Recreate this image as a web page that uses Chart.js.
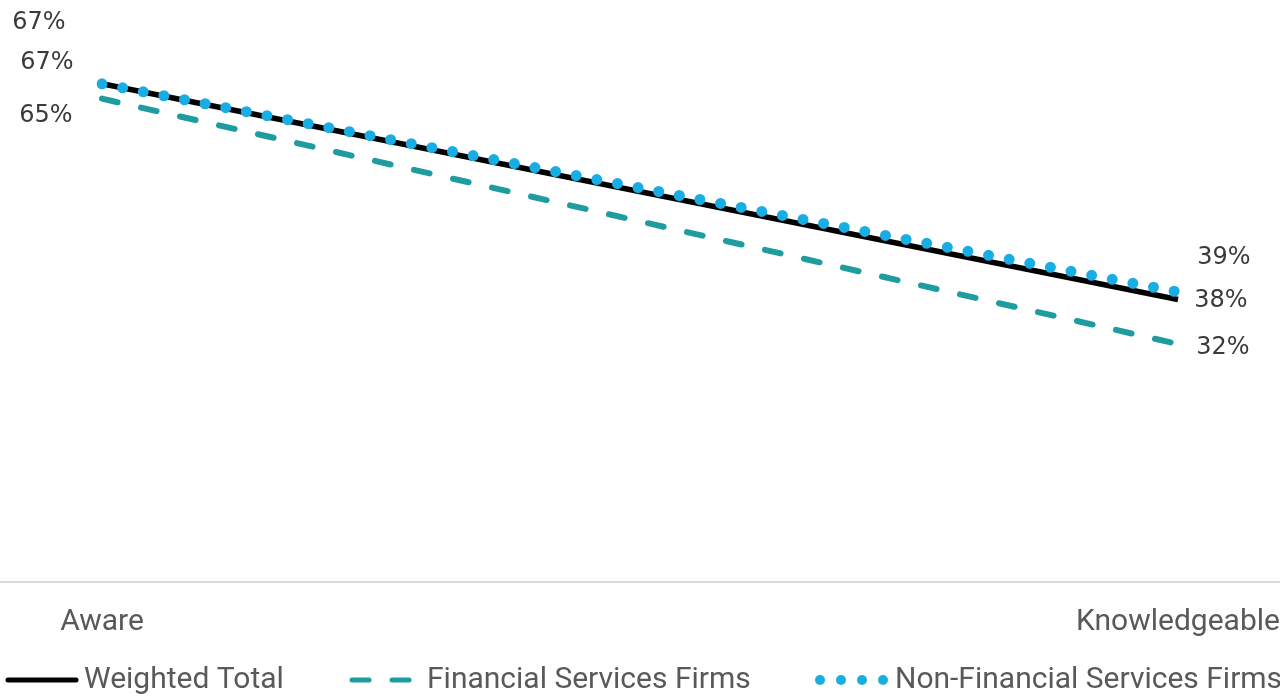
<!DOCTYPE html>
<html>
<head>
  <title>Aware vs Knowledgeable</title>
  <style>
    body {
      margin: 0;
      padding: 0;
      background-color: #fff;
    }
    .wrap {
      width: 1280px;
      height: 699px;
      position: relative;
    }
  </style>
</head>
<body>

  <div class="wrap">
    <canvas id="awareChart"></canvas>
  </div>

<script src="https://cdn.jsdelivr.net/npm/chart.js"></script>
<script>
  // Data
  const stages = ['Aware', 'Knowledgeable'];
  const seriesNames = ['Weighted Total', 'Financial Services Firms', 'Non-Financial Services Firms'];
  const weightedTotal = [67, 38];
  const financialFirms = [65, 32];
  const nonFinancialFirms = [67, 39];

  const FONT = "Roboto, sans-serif";
  const LABEL_FONT = "'DejaVu Sans', sans-serif";
  const colors = ['#000000', '#1f9ca0', '#1aade4'];

  // where each value label sits relative to its point (dx, dy)
  const labelOffsets = [
    [[-55, -21], [43, 1]],
    [[-56, 17], [45, 4]],
    [[-63, -61], [46, -34]]
  ];

  // value labels next to the line ends
  const valueLabels = {
    id: 'valueLabels',
    afterDatasetsDraw(chart) {
      const ctx = chart.ctx;
      ctx.save();
      ctx.font = '24px ' + LABEL_FONT;
      ctx.fillStyle = '#3a3a3a';
      ctx.textAlign = 'center';
      ctx.textBaseline = 'middle';
      chart.data.datasets.forEach((ds, i) => {
        const meta = chart.getDatasetMeta(i);
        meta.data.forEach((pt, j) => {
          const off = labelOffsets[i][j];
          ctx.fillText(ds.data[j] + '%', pt.x + off[0], pt.y + off[1]);
        });
      });
      ctx.restore();
    }
  };

  // baseline across the full width plus the legend row
  const extras = {
    id: 'extras',
    beforeDatasetsDraw(chart) {
      const ctx = chart.ctx;
      const y0 = chart.scales.y.getPixelForValue(0);
      ctx.save();
      ctx.strokeStyle = '#d9d9d9';
      ctx.lineWidth = 2;
      ctx.beginPath();
      ctx.moveTo(0, y0);
      ctx.lineTo(chart.width, y0);
      ctx.stroke();
      ctx.restore();
    },
    afterDraw(chart) {
      const ctx = chart.ctx;
      const cy = 680;
      ctx.save();
      ctx.lineCap = 'round';

      // solid sample
      ctx.strokeStyle = colors[0];
      ctx.lineWidth = 5;
      ctx.beginPath();
      ctx.moveTo(8, cy);
      ctx.lineTo(76, cy);
      ctx.stroke();

      // dashed sample
      ctx.strokeStyle = colors[1];
      ctx.beginPath();
      ctx.moveTo(352, cy); ctx.lineTo(369, cy);
      ctx.moveTo(392, cy); ctx.lineTo(409, cy);
      ctx.stroke();

      // dotted sample
      ctx.fillStyle = colors[2];
      [820, 841, 862, 883].forEach(x => {
        ctx.beginPath();
        ctx.arc(x, cy, 5, 0, Math.PI * 2);
        ctx.fill();
      });

      ctx.font = '30px ' + FONT;
      ctx.fillStyle = '#595959';
      ctx.textBaseline = 'middle';
      ctx.fillText(seriesNames[0], 84, cy);
      ctx.fillText(seriesNames[1], 427, cy);
      ctx.fillText(seriesNames[2], 895, cy);
      ctx.restore();
    }
  };

  const ctx = document.getElementById('awareChart').getContext('2d');
  new Chart(ctx, {
    type: 'line',
    data: {
      labels: stages,
      datasets: [
        {
          label: seriesNames[0],
          data: weightedTotal,
          borderColor: colors[0],
          borderWidth: 5.5,
          borderCapStyle: 'butt',
          pointRadius: 0,
          order: 1
        },
        {
          label: seriesNames[1],
          data: financialFirms,
          borderColor: colors[1],
          borderWidth: 6,
          borderDash: [16, 24],
          borderCapStyle: 'round',
          pointRadius: 0,
          order: 2
        },
        {
          label: seriesNames[2],
          data: nonFinancialFirms,
          borderColor: colors[2],
          borderWidth: 11,
          borderDash: [0, 21],
          borderCapStyle: 'round',
          pointRadius: 0,
          order: 0
        }
      ]
    },
    options: {
      responsive: true,
      maintainAspectRatio: false,
      animation: false,
      layout: {
        padding: { top: 2, left: 102, right: 102, bottom: 45 }
      },
      plugins: {
        legend: { display: false },
        tooltip: { enabled: false }
      },
      scales: {
        x: {
          offset: false,
          grid: { display: false },
          border: { display: false },
          ticks: {
            padding: 14,
            color: '#595959',
            font: { family: FONT, size: 30 },
            maxRotation: 0
          },
          // labels may hang past the edge points; keep the layout padding as is
          afterFit(scale) {
            scale.paddingLeft = 0;
            scale.paddingRight = 0;
          }
        },
        y: {
          display: false,
          min: 0,
          max: 78
        }
      }
    },
    plugins: [extras, valueLabels]
  });
</script>

</body>
</html>
